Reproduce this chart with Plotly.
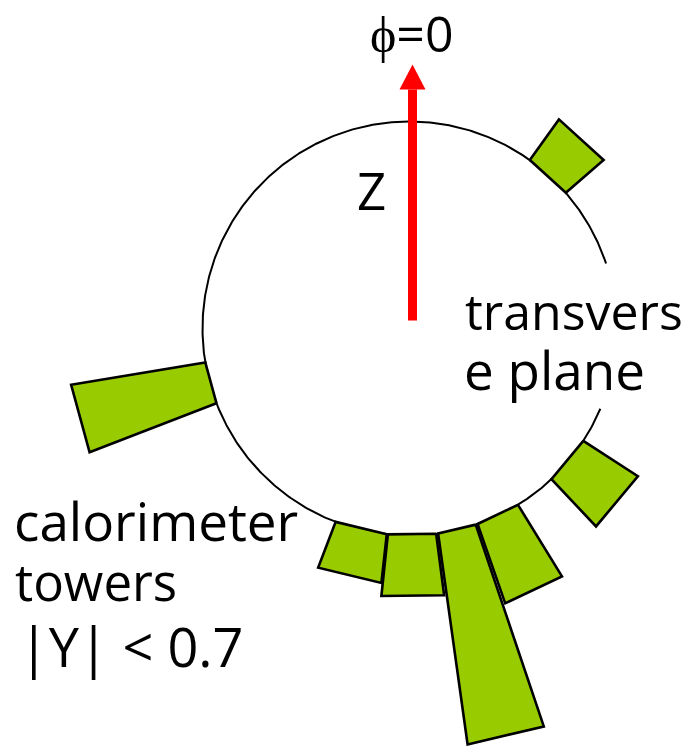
import numpy as np
import plotly.graph_objects as go

# ---- data (angles: phi measured clockwise from the top, degrees) ----
tower_phi_deg = [42.3, 129.8, 154.6, 166.7, 179.3, 193.6, 254.7]
tower_width_deg = [13.5, 13.8, 12.4, 10.7, 13.4, 14.6, 11.7]
tower_height = [50, 65, 84, 213, 62, 49, 136]
ring_radius = 207
ring_gap_deg = [71.7, 112.8]
arrow_length = 264

GREEN = "#99CC00"
FONT = "Open Sans"

def xy(r, phi_deg):
    p = np.radians(phi_deg)
    return r * np.sin(p), r * np.cos(p)

fig = go.Figure()

# ring (transverse plane) with gap behind the label
ang = np.linspace(ring_gap_deg[1], ring_gap_deg[0] + 360, 600)
cx, cy = xy(ring_radius, ang)
fig.add_trace(go.Scatter(x=cx, y=cy, mode="lines",
                         line=dict(color="black", width=2), hoverinfo="skip"))

# calorimeter towers
tx, ty = [], []
for phi, w, h in zip(tower_phi_deg, tower_width_deg, tower_height):
    a0, a1 = phi - w / 2, phi + w / 2
    r0, r1 = ring_radius, ring_radius + h
    px_, py_ = xy(np.array([r0, r1, r1, r0, r0]), np.array([a0, a0, a1, a1, a0]))
    tx += list(px_) + [None]
    ty += list(py_) + [None]
fig.add_trace(go.Scatter(x=tx, y=ty, mode="lines", fill="toself",
                         fillcolor=GREEN, line=dict(color="black", width=2.6),
                         hoverinfo="skip"))

# phi = 0 arrow
ax0 = 3
fig.add_shape(type="line", x0=ax0, x1=ax0, y0=8, y1=arrow_length - 25,
              line=dict(color="red", width=9))
fig.add_shape(type="path",
              path=f"M {ax0-13},{arrow_length-25} L {ax0+13},{arrow_length-25} L {ax0},{arrow_length} Z",
              fillcolor="red", line=dict(color="red", width=0))

def label(text, x, y, size=51, xanchor="left"):
    fig.add_annotation(text=text, x=x, y=y, xref="x", yref="y",
                       showarrow=False, xanchor=xanchor, yanchor="middle",
                       font=dict(family=FONT, size=size, color="black"))

# pixel -> data helpers
PX = lambda p: p - 409.5
PY = lambda p: 328.5 - p

label("ϕ=0", PX(411.5), PY(33), size=50, xanchor="center")
label("Z", PX(371), PY(190), xanchor="center")
label("transvers", PX(463), PY(311), size=50)
label("e plane", PX(462), PY(369), size=53)
label("calorimeter", PX(12), PY(520), size=53)
label("towers", PX(13), PY(581))
label("|Y| < 0.7", PX(17), PY(646), size=54)

fig.update_layout(
    width=689, height=746, margin=dict(l=0, r=0, t=0, b=0),
    paper_bgcolor="white", plot_bgcolor="white", showlegend=False,
    xaxis=dict(range=[-409.5, 279.5], visible=False, fixedrange=True),
    yaxis=dict(range=[-417.5, 328.5], visible=False, fixedrange=True),
)

fig.write_html("out.html", config={"displayModeBar": False},
               post_script="document.body.style.margin='0px';document.body.style.overflow='hidden';")
